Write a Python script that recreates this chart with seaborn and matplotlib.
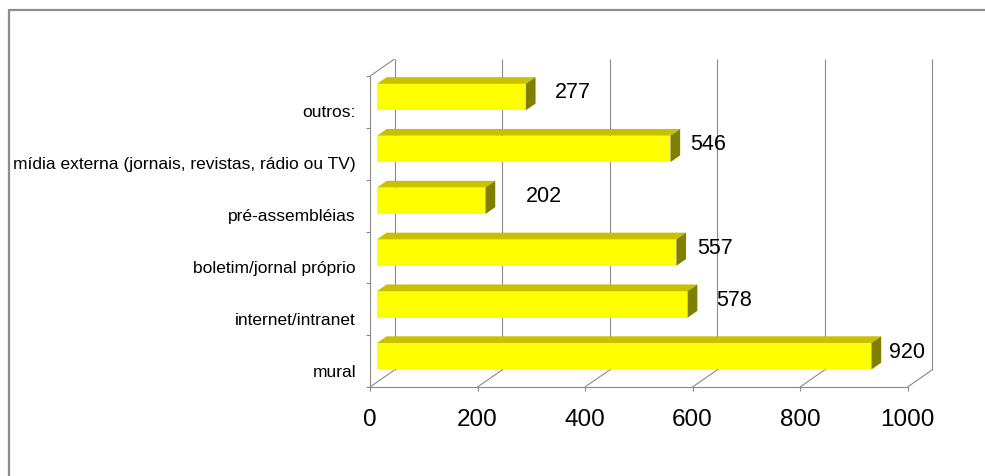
import numpy as np
import pandas as pd
import matplotlib
matplotlib.use("Agg")
import matplotlib.pyplot as plt
import matplotlib.transforms as mtransforms
from matplotlib.patches import Polygon
from matplotlib.lines import Line2D
import seaborn as sns

# data (top to bottom as shown)
categories = ["outros:", "mídia externa (jornais, revistas, rádio ou TV)", "pré-assembléias",
              "boletim/jornal próprio", "internet/intranet", "mural"]
values = [277, 546, 202, 557, 578, 920]
x_ticks = [0, 200, 400, 600, 800, 1000]
# label nudges in pixels (Excel puts them a bit irregularly)
label_dx = [54, 45, 65, 46, 53, 43]

df = pd.DataFrame({"canal": categories, "total": values})

sns.set_style("white")
plt.rcParams["font.family"] = ["Liberation Sans", "DejaVu Sans"]

W, H = 985, 476
fig = plt.figure(figsize=(W / 100, H / 100), dpi=100)

# front plane of the 3d box, in pixels
x0_px, x1000_px = 370, 907.5
floor_px, top_px = 387, 76
depth = (24.5, 17.0)          # back wall offset (px right, px up)
sx = (x1000_px - x0_px) / 1000
sy = (floor_px - top_px) / 6
right_px = x0_px + 1045.6 * sx
ax_top_px = top_px - depth[1]
ax = fig.add_axes([x0_px / W, (H - floor_px) / H, (right_px - x0_px) / W, (floor_px - ax_top_px) / H])

sns.barplot(data=df, x="total", y="canal", order=categories, orient="h",
            color="#FFFF00", saturation=1, width=0.51, edgecolor="none", ax=ax)

ax.set_xlim(0, (right_px - x0_px) / sx)
ax.set_ylim(5.5, -0.5 - depth[1] / sy)


def proj(v, c, f):
    return (v + f * depth[0] / sx, c - f * depth[1] / sy)


f0, f1 = 0.286, 0.68
dxb, dyb = proj(0, 0, f0)
for p in ax.patches:
    p.set_x(p.get_x() + dxb)
    p.set_y(p.get_y() + dyb)
    p.set_zorder(3)

# walls and floor
grid = dict(color="#8a8a8a", lw=0.8, zorder=1, solid_capstyle="butt", clip_on=False)
for v in x_ticks:
    a, b = proj(v, 5.5, 1), proj(v, -0.5, 1)
    ax.plot([a[0], b[0]], [a[1], b[1]], **grid)
    ax.plot([v, a[0]], [5.5, a[1]], **grid)
ax.plot([0, 1000], [5.5, 5.5], **grid)
ax.plot([0, 0], [5.5, -0.5], **grid)
a = proj(0, -0.5, 1)
ax.plot([0, a[0]], [-0.5, a[1]], **grid)

# small ticks
tick_len_x = 4 / sx
tick_len_y = 4 / sy
for k in range(7):
    ax.plot([-tick_len_x, 0], [k - 0.5, k - 0.5], **grid)
for v in x_ticks:
    ax.plot([v, v], [5.5, 5.5 + tick_len_y], **grid)

# 3d faces of the bars
h = 0.255
for i, v in enumerate(values):
    top = [proj(0, i - h, f0), proj(v, i - h, f0), proj(v, i - h, f1), proj(0, i - h, f1)]
    side = [proj(v, i - h, f0), proj(v, i - h, f1), proj(v, i + h, f1), proj(v, i + h, f0)]
    ax.add_patch(Polygon(top, closed=True, facecolor="#C8C000", edgecolor="none", zorder=3))
    ax.add_patch(Polygon(side, closed=True, facecolor="#808000", edgecolor="none", zorder=3))

# value labels
for i, v in enumerate(values):
    tr = mtransforms.offset_copy(ax.transData, fig=fig, x=label_dx[i], y=9, units="dots")
    ax.text(v, i, str(v), transform=tr, ha="center", va="center", fontsize=15.5, color="black")

# category labels
for i, c in enumerate(categories):
    tr = mtransforms.offset_copy(ax.transData, fig=fig, x=-14, y=-11, units="dots")
    ax.text(0, i, c, transform=tr, ha="right", va="center", fontsize=12.5, color="black")

ax.set_xticks(x_ticks)
ax.set_xticklabels([str(t) for t in x_ticks], fontsize=17.5, color="black")
ax.tick_params(axis="x", length=0, pad=16)
ax.set_yticks([])
ax.set_xlabel("")
ax.set_ylabel("")
for s in ax.spines.values():
    s.set_visible(False)
ax.patch.set_alpha(0)

# chart border
fig.add_artist(Line2D([8.5 / W, 8.5 / W], [0, 1 - 10 / H], color="#8c8c8c", lw=1.6))
fig.add_artist(Line2D([8.5 / W, 1], [1 - 10 / H, 1 - 10 / H], color="#8c8c8c", lw=1.6))

fig.savefig("out.png", dpi=100)
